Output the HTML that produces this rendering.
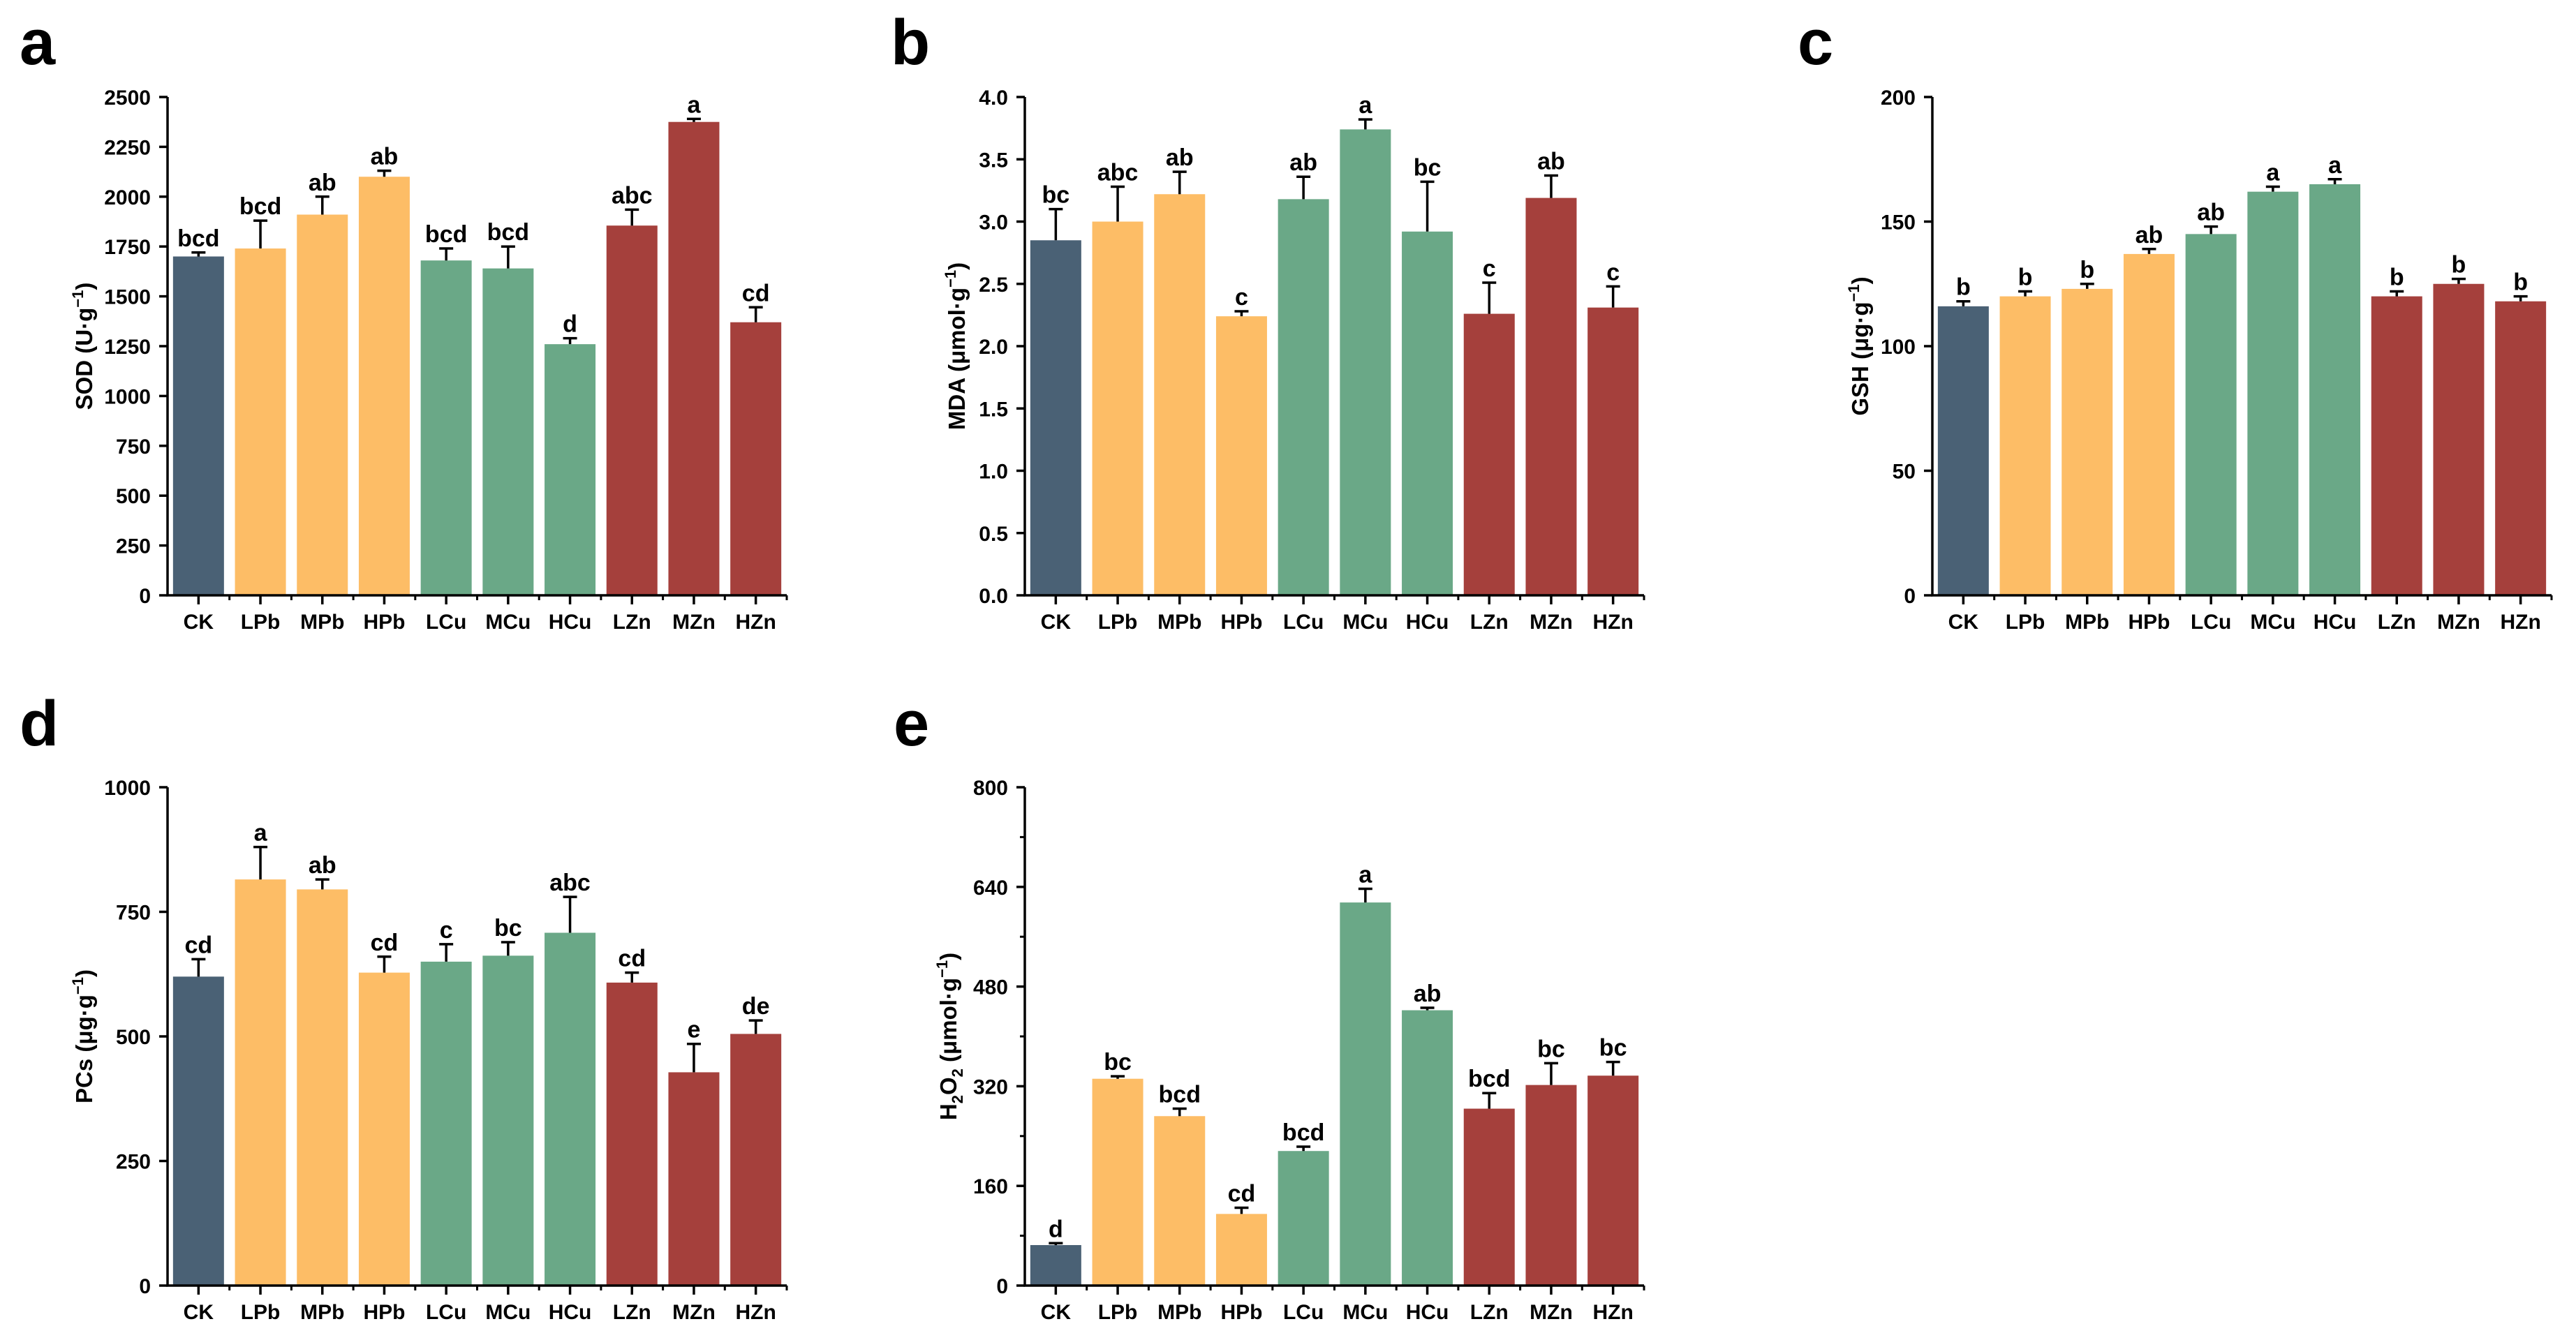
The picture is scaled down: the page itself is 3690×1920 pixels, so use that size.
<!DOCTYPE html>
<html><head><meta charset="utf-8">
<style>
html,body{margin:0;padding:0;background:#fff;}
svg{display:block;font-family:"Liberation Sans",Arial,sans-serif;font-weight:bold;}
</style></head>
<body>
<svg id="fig" width="3690" height="1920" viewBox="0 0 3690 1920" xmlns="http://www.w3.org/2000/svg"></svg>
<script>
const categories = ["CK","LPb","MPb","HPb","LCu","MCu","HCu","LZn","MZn","HZn"];
const groupColors = ["#4a6175","#fdbd66","#fdbd66","#fdbd66","#6aa887","#6aa887","#6aa887","#a5403c","#a5403c","#a5403c"];

const sodValues = [1700,1740,1910,2100,1680,1640,1260,1855,2375,1370];
const sodErrors = [20,140,90,30,60,110,30,80,15,75];
const sodLetters = ["bcd","bcd","ab","ab","bcd","bcd","d","abc","a","cd"];
const sodTicks = [0,250,500,750,1000,1250,1500,1750,2000,2250,2500];

const mdaValues = [2.85,3.0,3.22,2.24,3.18,3.74,2.92,2.26,3.19,2.31];
const mdaErrors = [0.25,0.28,0.18,0.04,0.18,0.08,0.40,0.25,0.18,0.17];
const mdaLetters = ["bc","abc","ab","c","ab","a","bc","c","ab","c"];
const mdaTicks = ["0.0","0.5","1.0","1.5","2.0","2.5","3.0","3.5","4.0"];

const gshValues = [116,120,123,137,145,162,165,120,125,118];
const gshErrors = [2,2,2,2,3,2,2,2,2,2];
const gshLetters = ["b","b","b","ab","ab","a","a","b","b","b"];
const gshTicks = [0,50,100,150,200];

const pcsValues = [620,815,795,628,650,662,708,608,428,505];
const pcsErrors = [35,65,20,32,35,27,72,20,57,27];
const pcsLetters = ["cd","a","ab","cd","c","bc","abc","cd","e","de"];
const pcsTicks = [0,250,500,750,1000];

const h2o2Values = [65,332,272,115,216,615,442,284,322,337];
const h2o2Errors = [3,4,12,10,7,22,4,25,35,22];
const h2o2Letters = ["d","bc","bcd","cd","bcd","a","ab","bcd","bc","bc"];
const h2o2Ticks = [0,160,320,480,640,800];

const NS = "http://www.w3.org/2000/svg";
const svg = document.getElementById("fig");
function mk(tag, attrs, parent){
  const e = document.createElementNS(NS, tag);
  for (const k in attrs) e.setAttribute(k, attrs[k]);
  (parent||svg).appendChild(e);
  return e;
}

function panel(opt){
  const g = mk("g", {});
  
  
  const ax = opt.ax, y0 = opt.y0, yTop = y0 - 714, step = 88.7, len = step*10;
  const tickNums = opt.ticks.map(Number);
  const vmax = tickNums[tickNums.length-1];
  const ys = v => y0 - (v/vmax)*(y0-yTop);
  const xs = i => ax + step*(i+0.5);

  const lbl = mk("text", {x: opt.lx, y: opt.ly, "font-size": 92}, g);
  lbl.textContent = opt.id;
  
  

  categories.forEach((c,i)=>{
    const v = opt.values[i], e = opt.errors[i];
    const r = mk("rect", {x: xs(i)-36.5, y: ys(v), width: 73, height: y0-ys(v), fill: groupColors[i]}, g);
    
    
    const eb = mk("path", {d: `M${xs(i)} ${ys(v)} V${ys(v+e)} M${xs(i)-10} ${ys(v+e)} H${xs(i)+10}`, stroke:"#000","stroke-width":3.5, fill:"none"}, g);
    
    
    const t = mk("text", {x: xs(i), y: ys(v+e)-9, "font-size": 34, "text-anchor":"middle"}, g);
    t.textContent = opt.letters[i];
    
    
    const xl = mk("text", {x: xs(i), y: y0+48, "font-size": 30, "text-anchor":"middle"}, g);
    xl.textContent = c;
    
    
    mk("line", {x1: xs(i), x2: xs(i), y1: y0, y2: y0+13, stroke:"#000","stroke-width":3.5}, g);
    mk("line", {x1: ax+step*(i+1), x2: ax+step*(i+1), y1: y0, y2: y0+7, stroke:"#000","stroke-width":3}, g);
  });
  opt.ticks.forEach((tv,k)=>{
    const v = Number(tv);
    mk("line", {x1: ax-12, x2: ax, y1: ys(v), y2: ys(v), stroke:"#000","stroke-width":3.5}, g);
    if (opt.minor && k>0){ const mv = (Number(opt.ticks[k-1])+v)/2;
      mk("line", {x1: ax-7, x2: ax, y1: ys(mv), y2: ys(mv), stroke:"#000","stroke-width":3}, g); }
    const t = mk("text", {x: ax-24, y: ys(v)+11, "font-size": 30, "text-anchor":"end"}, g);
    t.textContent = tv;
    
    
  });
  const axes = mk("path", {d:`M${ax} ${yTop} V${y0} H${ax+len}`, stroke:"#000","stroke-width":3.5, fill:"none"}, g);
  
  
  const yt = mk("text", {x:0, y:0, "font-size": 33, "text-anchor":"middle",
    transform:`translate(${opt.tx},${(y0+yTop)/2}) rotate(-90)`}, g);
  yt.innerHTML = opt.title;
  
  
}

panel({id:"a", ax:240, y0:853, lx:28, ly:92, tx:132, values:sodValues, errors:sodErrors, letters:sodLetters, ticks:sodTicks,
  title:'SOD (U·g<tspan dy="-13" font-size="22">−1</tspan><tspan dy="13">)</tspan>'});
panel({id:"b", ax:1468, y0:853, lx:1276, ly:92, tx:1382, values:mdaValues, errors:mdaErrors, letters:mdaLetters, ticks:mdaTicks,
  title:'MDA (μmol·g<tspan dy="-13" font-size="22">−1</tspan><tspan dy="13">)</tspan>'});
panel({id:"c", ax:2768, y0:853, lx:2575, ly:92, tx:2676, values:gshValues, errors:gshErrors, letters:gshLetters, ticks:gshTicks,
  title:'GSH (μg·g<tspan dy="-13" font-size="22">−1</tspan><tspan dy="13">)</tspan>'});
panel({id:"d", ax:240, y0:1842, lx:28, ly:1068, tx:132, values:pcsValues, errors:pcsErrors, letters:pcsLetters, ticks:pcsTicks,
  title:'PCs  (μg·g<tspan dy="-13" font-size="22">−1</tspan><tspan dy="13">)</tspan>'});
panel({id:"e", ax:1468, y0:1842, lx:1280, ly:1068, tx:1370, minor:true, values:h2o2Values, errors:h2o2Errors, letters:h2o2Letters, ticks:h2o2Ticks,
  title:'H<tspan dy="9" font-size="22">2</tspan><tspan dy="-9">O</tspan><tspan dy="9" font-size="22">2</tspan><tspan dy="-9">  (μmol·g</tspan><tspan dy="-13" font-size="22">−1</tspan><tspan dy="13">)</tspan>'});
</script>
</body></html>
